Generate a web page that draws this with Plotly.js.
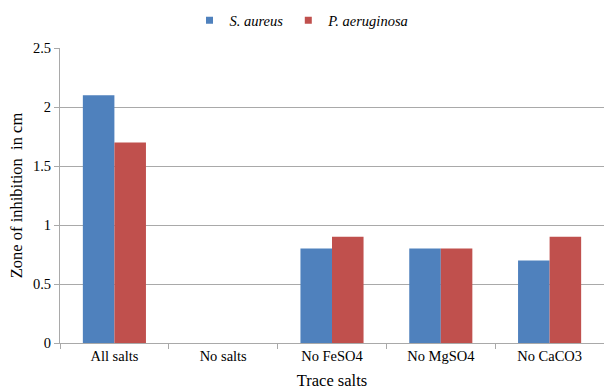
<!DOCTYPE html>
<html>
<head>
<meta charset="utf-8">
<script src="https://cdn.plot.ly/plotly-3.0.1.min.js"></script>
<style>
  html, body { margin: 0; padding: 0; background: #fff; }
  #chart { width: 604px; height: 390px; }
</style>
</head>
<body>
<div id="chart"></div>
<script>
// Trace-salt treatments on the category axis
const categories = ["All salts", "No salts", "No FeSO4", "No MgSO4", "No CaCO3"];
// Zone of inhibition (cm) per organism
const sAureus = [2.1, 0, 0.8, 0.8, 0.7];
const pAeruginosa = [1.7, 0, 0.9, 0.8, 0.9];
const seriesNames = ["<i>S. aureus</i>", "<i>P. aeruginosa</i>"];
const seriesColors = ["#4F81BD", "#C0504D"];
const yTicks = [0, 0.5, 1, 1.5, 2, 2.5];
const yTickText = ["0", "0.5", "1", "1.5", "2", "2.5"];

const serif = "Times New Roman";
const axisGray = "#A9A9A9";

const traces = [
  {
    type: "bar", name: seriesNames[0], x: categories, y: sAureus,
    marker: { color: seriesColors[0] }, showlegend: false
  },
  {
    type: "bar", name: seriesNames[1], x: categories, y: pAeruginosa,
    marker: { color: seriesColors[1] }, showlegend: false
  },
  // legend keys: small square swatches
  {
    type: "scatter", mode: "markers", name: seriesNames[0], x: [null], y: [null],
    marker: { symbol: "square", size: 7, color: seriesColors[0] }
  },
  {
    type: "scatter", mode: "markers", name: seriesNames[1], x: [null], y: [null],
    marker: { symbol: "square", size: 7, color: seriesColors[1] }
  }
];

const layout = {
  width: 604, height: 390,
  margin: { l: 60, r: 0, t: 48, b: 47 },
  paper_bgcolor: "#fff", plot_bgcolor: "#fff",
  font: { family: serif, size: 14, color: "#000" },
  barmode: "group", bargap: 0.42, bargroupgap: 0,
  showlegend: true,
  legend: {
    orientation: "h", xref: "container", yref: "container",
    x: 0.5, xanchor: "center", y: 0.948, yanchor: "middle",
    font: { family: serif, size: 14.5, color: "#000" },
    itemwidth: 30, traceorder: "normal", tracegroupgap: 0
  },
  xaxis: {
    type: "category", range: [-0.5, 4.5],
    showgrid: false, showline: true, linecolor: axisGray, linewidth: 1,
    ticks: "outside", tickson: "boundaries", ticklen: 5, tickcolor: axisGray,
    tickfont: { family: serif, size: 14.5 },
    title: { text: "Trace salts", font: { family: serif, size: 16.5 }, standoff: 11 }
  },
  yaxis: {
    range: [0, 2.5], tickvals: yTicks, ticktext: yTickText,
    showgrid: true, gridcolor: axisGray, gridwidth: 1,
    showline: true, linecolor: axisGray, linewidth: 1,
    ticks: "outside", ticklen: 5, tickcolor: axisGray,
    tickfont: { family: serif, size: 14.5 }, zeroline: false,
    title: { text: "Zone of inhibition  in cm", font: { family: serif, size: 16.5 }, standoff: 6 }
  }
};

Plotly.newPlot("chart", traces, layout, { staticPlot: true, displayModeBar: false });
</script>
</body>
</html>
